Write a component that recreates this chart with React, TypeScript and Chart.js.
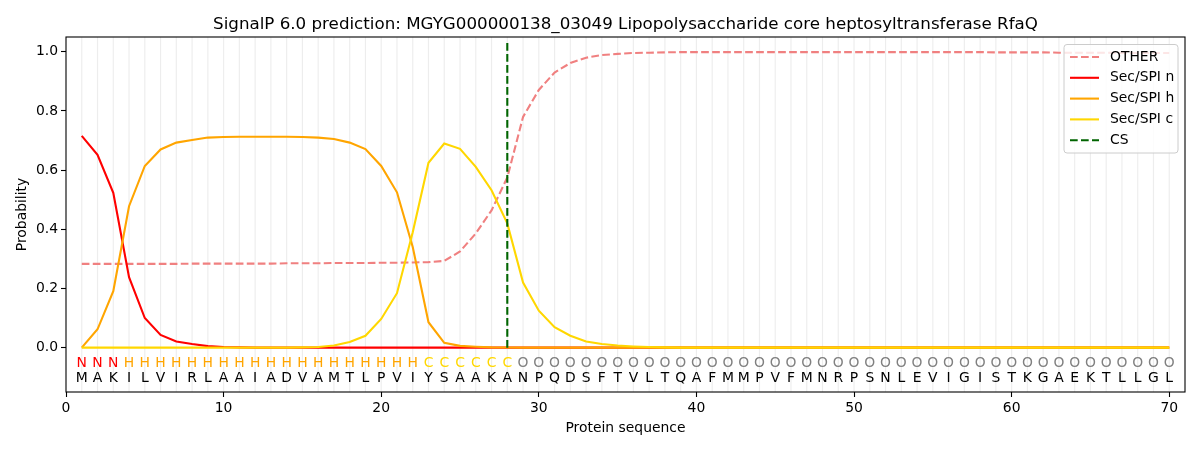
import React, { useEffect, useRef } from "react";
import { Chart, registerables } from "chart.js";

Chart.register(...registerables);

const TITLE = "SignalP 6.0 prediction: MGYG000000138_03049 Lipopolysaccharide core heptosyltransferase RfaQ";
const SEQUENCE = "MAKILVIRLAAIADVAMTLPVIYSAAKANPQDSFTVLTQAFMMPVFMNRPSNLEVIGISTKGAEKTLLGL".split("");
const REGIONS = ("NNN" + "H".repeat(19) + "C".repeat(6) + "O".repeat(42)).split("");
const POSITIONS = SEQUENCE.map((_, i) => i + 1);
const CS_POSITION = 28;
const CS_TOP = 1.035;

const OTHER = [
  0.283, 0.283, 0.283, 0.283, 0.283, 0.283, 0.283, 0.284, 0.284, 0.284,
  0.284, 0.284, 0.284, 0.285, 0.285, 0.285, 0.286, 0.286, 0.286, 0.287,
  0.287, 0.288, 0.289, 0.293, 0.325, 0.386, 0.464, 0.575, 0.78, 0.871,
  0.93, 0.962, 0.98, 0.989, 0.993, 0.996, 0.997, 0.998, 0.999, 0.999,
  0.999, 0.999, 0.999, 0.999, 0.999, 0.999, 0.999, 0.999, 0.999, 0.999,
  0.999, 0.999, 0.999, 0.999, 0.999, 0.999, 0.999, 0.999, 0.998, 0.998,
  0.998, 0.998, 0.997, 0.997, 0.997, 0.997, 0.996, 0.996, 0.996, 0.996,
];
const SEC_N = [
  0.716, 0.652, 0.523, 0.238, 0.10, 0.043, 0.021, 0.012, 0.005, 0.002,
  0.001, 0, 0, 0, 0, 0, 0, 0, 0, 0,
  0, 0, 0, 0, 0, 0, 0, 0, 0, 0,
  0, 0, 0, 0, 0, 0, 0, 0, 0, 0,
  0, 0, 0, 0, 0, 0, 0, 0, 0, 0,
  0, 0, 0, 0, 0, 0, 0, 0, 0, 0,
  0, 0, 0, 0, 0, 0, 0, 0, 0, 0,
];
const SEC_H = [
  0, 0.062, 0.191, 0.478, 0.614, 0.67, 0.693, 0.702, 0.71, 0.712,
  0.713, 0.713, 0.713, 0.713, 0.712, 0.71, 0.705, 0.693, 0.671, 0.614,
  0.525, 0.34, 0.086, 0.016, 0.006, 0.003, 0.001, 0.0005, 0, 0,
  0, 0, 0, 0, 0, 0, 0, 0, 0, 0,
  0, 0, 0, 0, 0, 0, 0, 0, 0, 0,
  0, 0, 0, 0, 0, 0, 0, 0, 0, 0,
  0, 0, 0, 0, 0, 0, 0, 0, 0, 0,
];
const SEC_C = [
  0, 0, 0, 0, 0, 0, 0, 0, 0, 0,
  0, 0, 0, 0, 0.001, 0.002, 0.007, 0.019, 0.04, 0.097,
  0.184, 0.39, 0.625, 0.69, 0.672, 0.611, 0.532, 0.42, 0.22, 0.125,
  0.069, 0.04, 0.021, 0.012, 0.007, 0.004, 0.002, 0.001, 0, 0,
  0, 0, 0, 0, 0, 0, 0, 0, 0, 0,
  0, 0, 0, 0, 0, 0, 0, 0, 0, 0,
  0, 0, 0, 0, 0, 0, 0, 0, 0, 0,
];
const X_TICKS = [0, 10, 20, 30, 40, 50, 60, 70];
const Y_TICKS = [0, 0.2, 0.4, 0.6, 0.8, 1.0];

const COLORS = {
  OTHER: "#F08080",
  N: "#FF0000",
  H: "#FFA500",
  C: "#FFD700",
  CS: "#006400",
  O: "#808080",
};
const REGION_COLOR: Record<string, string> = { N: COLORS.N, H: COLORS.H, C: COLORS.C, O: COLORS.O };

const FONT = "'DejaVu Sans', sans-serif";
const DASH = [7.7, 3.3];

const LEGEND = [
  { label: "OTHER", color: COLORS.OTHER, dash: true },
  { label: "Sec/SPI n", color: COLORS.N, dash: false },
  { label: "Sec/SPI h", color: COLORS.H, dash: false },
  { label: "Sec/SPI c", color: COLORS.C, dash: false },
  { label: "CS", color: COLORS.CS, dash: true },
];

const toXY = (arr: number[]) => arr.map((v, i) => ({ x: POSITIONS[i], y: v }));

const decorPlugin = {
  id: "decor",
  beforeDatasetsDraw(chart: any) {
    const { ctx, chartArea } = chart;
    const xs = chart.scales.x;
    ctx.save();
    ctx.strokeStyle = "rgba(0,0,0,0.07)";
    ctx.lineWidth = 1.2;
    POSITIONS.forEach((p) => {
      const x = xs.getPixelForValue(p);
      ctx.beginPath();
      ctx.moveTo(x, chartArea.top);
      ctx.lineTo(x, chartArea.bottom);
      ctx.stroke();
    });
    ctx.restore();
  },
  afterDatasetsDraw(chart: any) {
    const { ctx, chartArea } = chart;
    const xs = chart.scales.x;
    const ys = chart.scales.y;
    ctx.save();
    ctx.font = `13.9px ${FONT}`;
    ctx.textAlign = "center";
    ctx.textBaseline = "alphabetic";
    const zero = ys.getPixelForValue(0);
    const yReg = zero + 19;
    const ySeq = zero + 34;
    POSITIONS.forEach((p, i) => {
      const x = xs.getPixelForValue(p);
      ctx.fillStyle = REGION_COLOR[REGIONS[i]];
      ctx.fillText(REGIONS[i], x, yReg);
      ctx.fillStyle = "#000000";
      ctx.fillText(SEQUENCE[i], x, ySeq);
    });

    // legend
    const lx = 1064, ly = 44.5, lw = 114, lh = 108.5;
    ctx.fillStyle = "rgba(255,255,255,0.8)";
    ctx.strokeStyle = "#cccccc";
    ctx.lineWidth = 1;
    ctx.beginPath();
    ctx.roundRect(lx, ly, lw, lh, 3);
    ctx.fill();
    ctx.stroke();
    ctx.textAlign = "left";
    ctx.textBaseline = "middle";
    LEGEND.forEach((item, i) => {
      const y = 57 + i * 20.8;
      ctx.strokeStyle = item.color;
      ctx.lineWidth = 2.1;
      ctx.setLineDash(item.dash ? DASH : []);
      ctx.beginPath();
      ctx.moveTo(1070, y);
      ctx.lineTo(1099, y);
      ctx.stroke();
      ctx.setLineDash([]);
      ctx.fillStyle = "#000000";
      ctx.fillText(item.label, 1110, y);
    });

    // frame
    ctx.strokeStyle = "#000000";
    ctx.lineWidth = 1.1;
    ctx.strokeRect(chartArea.left, chartArea.top, chartArea.right - chartArea.left, chartArea.bottom - chartArea.top);
    ctx.restore();
  },
  afterDraw(chart: any) {
    const { ctx, chartArea } = chart;
    const cx = (chartArea.left + chartArea.right) / 2;
    ctx.save();
    ctx.fillStyle = "#000000";
    ctx.textAlign = "center";
    ctx.textBaseline = "alphabetic";
    ctx.font = `16.7px ${FONT}`;
    ctx.fillText(TITLE, cx, 29.3);
    ctx.font = `13.9px ${FONT}`;
    ctx.fillText("Protein sequence", cx, 431.7);
    ctx.translate(26, (chartArea.top + chartArea.bottom) / 2);
    ctx.rotate(-Math.PI / 2);
    ctx.fillText("Probability", 0, 0);
    ctx.restore();
  },
};

export default function App() {
  const canvasRef = useRef<HTMLCanvasElement | null>(null);

  useEffect(() => {
    document.body.style.margin = "0";
    const canvas = canvasRef.current;
    if (!canvas) return;
    const chart = new Chart(canvas, {
      type: "line",
      data: {
        datasets: [
          {
            label: "CS",
            data: [{ x: CS_POSITION, y: 0 }, { x: CS_POSITION, y: CS_TOP }],
            borderColor: COLORS.CS,
            borderWidth: 2.1,
            borderDash: DASH,
            pointRadius: 0,
            order: 0,
          },
          {
            label: "Sec/SPI c",
            data: toXY(SEC_C),
            borderColor: COLORS.C,
            borderWidth: 2.1,
            pointRadius: 0,
            order: 1,
          },
          {
            label: "Sec/SPI h",
            data: toXY(SEC_H),
            borderColor: COLORS.H,
            borderWidth: 2.1,
            pointRadius: 0,
            order: 2,
          },
          {
            label: "Sec/SPI n",
            data: toXY(SEC_N),
            borderColor: COLORS.N,
            borderWidth: 2.1,
            pointRadius: 0,
            order: 3,
          },
          {
            label: "OTHER",
            data: toXY(OTHER),
            borderColor: COLORS.OTHER,
            borderWidth: 2.1,
            borderDash: DASH,
            pointRadius: 0,
            order: 4,
          },
        ],
      },
      options: {
        animation: false,
        responsive: false,
        events: [],
        layout: { padding: { top: 37, right: 15, left: 0, bottom: 0 } },
        plugins: {
          legend: { display: false },
          title: { display: false },
          tooltip: { enabled: false },
        },
        elements: { line: { tension: 0, borderCapStyle: "butt" } },
        scales: {
          x: {
            type: "linear",
            min: 0,
            max: 71,
            afterBuildTicks: (scale: any) => {
              scale.ticks = X_TICKS.map((v) => ({ value: v }));
            },
            afterFit: (scale: any) => {
              scale.height = 58;
              scale.paddingLeft = 0;
              scale.paddingRight = 0;
            },
            grid: {
              display: true,
              drawOnChartArea: false,
              drawTicks: true,
              tickLength: 5,
              color: "#000000",
              tickWidth: 1.1,
            },
            border: { display: false },
            ticks: {
              color: "#000000",
              font: { family: FONT, size: 13.9 },
              padding: 3,
              maxRotation: 0,
              autoSkip: false,
              callback: (v: any) => String(v),
            },
          },
          y: {
            type: "linear",
            min: -0.15,
            max: 1.05,
            afterBuildTicks: (scale: any) => {
              scale.ticks = Y_TICKS.map((v) => ({ value: v }));
            },
            afterFit: (scale: any) => {
              scale.width = 66;
              scale.paddingTop = 0;
              scale.paddingBottom = 0;
            },
            grid: {
              display: true,
              drawOnChartArea: false,
              drawTicks: true,
              tickLength: 5,
              color: "#000000",
              tickWidth: 1.1,
            },
            border: { display: false },
            ticks: {
              color: "#000000",
              font: { family: FONT, size: 13.9 },
              padding: 3,
              autoSkip: false,
              callback: (v: any) => Number(v).toFixed(1),
            },
          },
        },
      },
      plugins: [decorPlugin],
    });
    return () => chart.destroy();
  }, []);

  return (
    <div style={{ position: "absolute", left: 0, top: 0, width: 1200, height: 450 }}>
      <canvas ref={canvasRef} width={1200} height={450} style={{ width: 1200, height: 450 }} />
    </div>
  );
}
